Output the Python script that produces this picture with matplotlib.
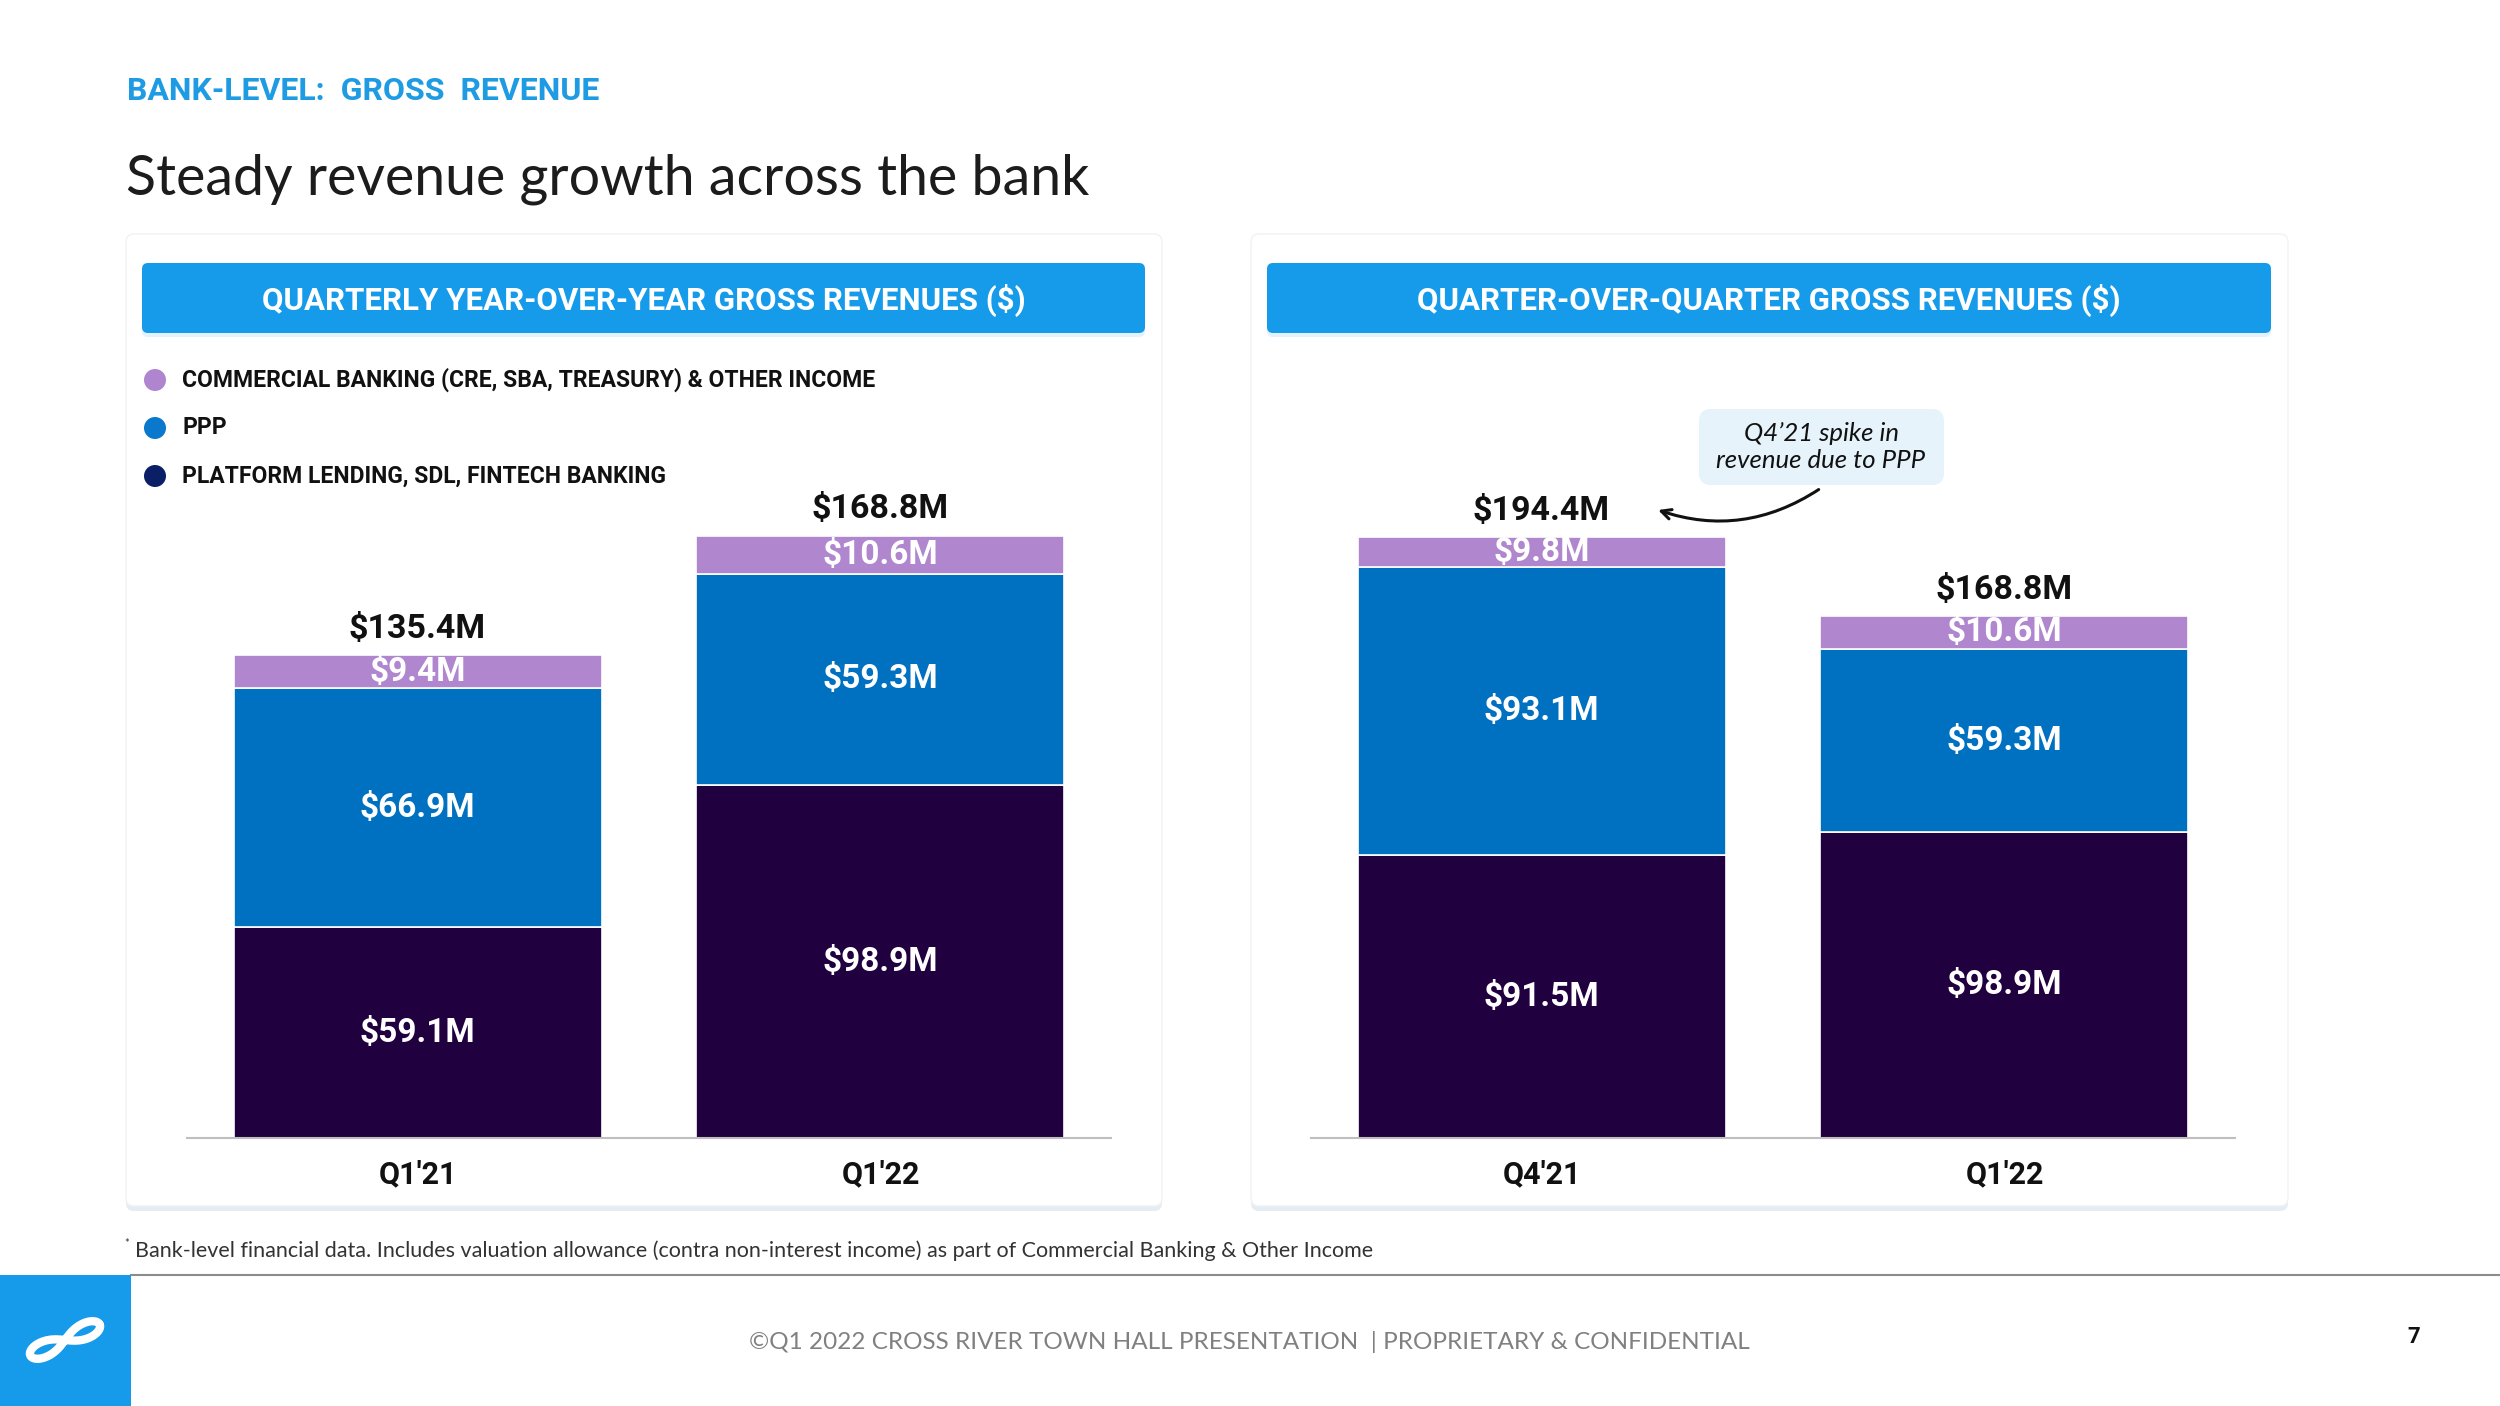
"""
Bank-level gross revenue slide: two stacked-bar panels (YoY and QoQ).
"""

import numpy as np
import matplotlib.pyplot as plt
from matplotlib.patches import FancyBboxPatch, Circle, Rectangle
import matplotlib.transforms as mtrans

# ---------------------------------------------------------------------------
# Data (values in $M)
# ---------------------------------------------------------------------------
yoy_quarters = ["Q1'21", "Q1'22"]
yoy_platform = [59.1, 98.9]
yoy_ppp = [66.9, 59.3]
yoy_commercial = [9.4, 10.6]
yoy_totals = [135.4, 168.8]

qoq_quarters = ["Q4'21", "Q1'22"]
qoq_platform = [91.5, 98.9]
qoq_ppp = [93.1, 59.3]
qoq_commercial = [9.8, 10.6]
qoq_totals = [194.4, 168.8]

legend_labels = [
    "COMMERCIAL BANKING (CRE, SBA, TREASURY) & OTHER INCOME",
    "PPP",
    "PLATFORM LENDING, SDL, FINTECH BANKING",
]

# ---------------------------------------------------------------------------
# Colours & fonts
# ---------------------------------------------------------------------------
PLATFORM_COLOR = "#21003f"
PPP_COLOR = "#0070c0"
COMM_COLOR = "#b086cf"
LEGEND_COLORS = ["#b085d0", "#0a78cc", "#0b1f66"]
BANNER_BLUE = "#159bea"
HEADER_BLUE = "#1e9be2"
TEXT_DARK = "#111111"

BOLD_FONT = "Roboto"
BODY_FONT = "Lato"

W, H = 2500, 1406

fig = plt.figure(figsize=(W / 100, H / 100), dpi=100)
fig.patch.set_facecolor("white")

# background overlay in pixel coordinates (y grows downward)
bg = fig.add_axes([0, 0, 1, 1], zorder=0)
bg.set_xlim(0, W)
bg.set_ylim(H, 0)
bg.axis("off")


def px_rect(x0, y0, x1, y1):
    return [x0 / W, (H - y1) / H, (x1 - x0) / W, (y1 - y0) / H]


# titles
bg.text(127, 91, "BANK-LEVEL:  GROSS  REVENUE", fontsize=23, fontweight="bold",
        color=HEADER_BLUE, family=BOLD_FONT, va="center", ha="left")
bg.text(126, 179, "Steady revenue growth across the bank", fontsize=40,
        color="#1c1c1c", family=BODY_FONT, va="center", ha="left")

# cards + banners
for x0, x1, banner_text in [
    (126, 1162, "QUARTERLY YEAR-OVER-YEAR GROSS REVENUES ($)"),
    (1251, 2288, "QUARTER-OVER-QUARTER GROSS REVENUES ($)"),
]:
    bg.add_patch(FancyBboxPatch((x0, 238), x1 - x0, 973,
                                boxstyle="round,pad=0,rounding_size=8",
                                facecolor="#e4edf4", edgecolor="none", zorder=1))
    bg.add_patch(FancyBboxPatch((x0, 234), x1 - x0, 972,
                                boxstyle="round,pad=0,rounding_size=8",
                                facecolor="white", edgecolor="#f0f2f4", lw=1, zorder=2))
    bx0, bx1 = x0 + 16, x1 - 17
    bg.add_patch(FancyBboxPatch((bx0, 266), bx1 - bx0, 71,
                                boxstyle="round,pad=0,rounding_size=6",
                                facecolor="#e3f2fc", edgecolor="none", zorder=3))
    bg.add_patch(FancyBboxPatch((bx0, 263), bx1 - bx0, 70,
                                boxstyle="round,pad=0,rounding_size=6",
                                facecolor=BANNER_BLUE, edgecolor="none", zorder=4))
    bg.text((bx0 + bx1) / 2, 300, banner_text, fontsize=22.5, fontweight="bold",
            color="white", family=BOLD_FONT, ha="center", va="center", zorder=5)

# legend
for i, (lab, col) in enumerate(zip(legend_labels, LEGEND_COLORS)):
    y = 380 + i * 48
    bg.add_patch(Circle((155, y), 11, facecolor=col, edgecolor="none", zorder=5))
    bg.text(182, y, lab, fontsize=16.5, fontweight="bold", color=TEXT_DARK,
            family=BOLD_FONT, ha="left", va="center", zorder=5)

# footnote
bg.text(124, 1243, "*", fontsize=8, color="#333333", family=BODY_FONT, va="center")
bg.text(135, 1251, "Bank-level financial data. Includes valuation allowance (contra "
        "non-interest income) as part of Commercial Banking & Other Income",
        fontsize=15.5, color="#333333", family=BODY_FONT, va="center", ha="left")

# footer
bg.plot([131, W], [1275, 1275], color="#8c8c8c", lw=1.5, zorder=2)
bg.add_patch(Rectangle((0, 1275), 131, 131, facecolor=BANNER_BLUE, edgecolor="none", zorder=2))
t = np.linspace(0, 2 * np.pi, 300)
lx = 38 * np.cos(t) / (1 + np.sin(t) ** 2)
ly = 22 * np.sin(t) * np.cos(t) / (1 + np.sin(t) ** 2)
ang = np.deg2rad(24)
rx = lx * np.cos(ang) - ly * np.sin(ang)
ry = lx * np.sin(ang) + ly * np.cos(ang)
bg.plot(65 + rx, 1340 - ry, color="white", lw=6, solid_capstyle="round", zorder=3)
bg.text(1249, 1342, "©Q1 2022 CROSS RIVER TOWN HALL PRESENTATION  | PROPRIETARY & CONFIDENTIAL",
        fontsize=17.5, color="#808080", family=BODY_FONT, ha="center", va="center")
bg.text(2414, 1337, "7", fontsize=16, fontweight="bold", color=TEXT_DARK,
        family=BOLD_FONT, ha="center", va="center")


# ---------------------------------------------------------------------------
# Stacked bar panels
# ---------------------------------------------------------------------------
def stacked_panel(rect, ymax, quarters, platform, ppp, commercial, totals):
    ax = fig.add_axes(rect, zorder=3)
    ax.patch.set_alpha(0)
    x = np.arange(len(quarters))
    platform = np.array(platform)
    ppp = np.array(ppp)
    commercial = np.array(commercial)
    width = 0.795
    layers = [(platform, np.zeros_like(platform), PLATFORM_COLOR),
              (ppp, platform, PPP_COLOR),
              (commercial, platform + ppp, COMM_COLOR)]
    for vals, bottom, col in layers:
        ax.bar(x, vals, width=width, bottom=bottom, color=col,
               edgecolor="white", linewidth=1.2)
        for xi, v, b in zip(x, vals, bottom):
            ax.text(xi, b + v / 2, f"${v:.1f}M", ha="center", va="center",
                    color="white", fontsize=24, fontweight="bold", family=BOLD_FONT)
    for xi, tot in zip(x, totals):
        ax.annotate(f"${tot:.1f}M", (xi, tot), xytext=(0, 19), textcoords="offset points",
                    ha="center", va="center", fontsize=24.5, fontweight="bold",
                    color=TEXT_DARK, family=BOLD_FONT)
    ax.set_xlim(-0.498, 1.498)
    ax.set_ylim(0, ymax)
    ax.set_xticks(x)
    ax.set_xticklabels(quarters, fontsize=22, fontweight="bold", family=BOLD_FONT,
                       color=TEXT_DARK)
    ax.tick_params(axis="x", length=0, pad=15)
    ax.set_yticks([])
    for side in ["top", "left", "right"]:
        ax.spines[side].set_visible(False)
    ax.spines["bottom"].set_color("#bfbfbf")
    ax.spines["bottom"].set_linewidth(1.5)
    return ax


ax_l = stacked_panel(px_rect(187, 400, 1111, 1138), 738 / 3.568,
                     yoy_quarters, yoy_platform, yoy_ppp, yoy_commercial, yoy_totals)
ax_r = stacked_panel(px_rect(1311, 400, 2235, 1138), 738 / 3.092,
                     qoq_quarters, qoq_platform, qoq_ppp, qoq_commercial, qoq_totals)

# callout for the Q4'21 PPP spike
bg.add_patch(FancyBboxPatch((1699, 409), 245, 76,
                            boxstyle="round,pad=0,rounding_size=12",
                            facecolor="#e6f3fb", edgecolor="none", zorder=4))
bg.text(1821, 447, "Q4’21 spike in\nrevenue due to PPP", fontsize=18.5, style="italic",
        color=TEXT_DARK, family=BODY_FONT, ha="center", va="center",
        linespacing=1.2, zorder=5)
head = mtrans.offset_copy(ax_r.transData, fig=fig, x=82, y=20, units="points")
ax_r.annotate("", xy=(0, qoq_totals[0]), xycoords=head,
              xytext=(1821 / W, (H - 488) / H), textcoords="figure fraction",
              arrowprops=dict(arrowstyle="->,head_length=0.7,head_width=0.35",
                              connectionstyle="arc3,rad=-0.25", lw=2.2, color=TEXT_DARK),
              annotation_clip=False)

fig.savefig("out.png", dpi=100, facecolor="white")
plt.close(fig)
